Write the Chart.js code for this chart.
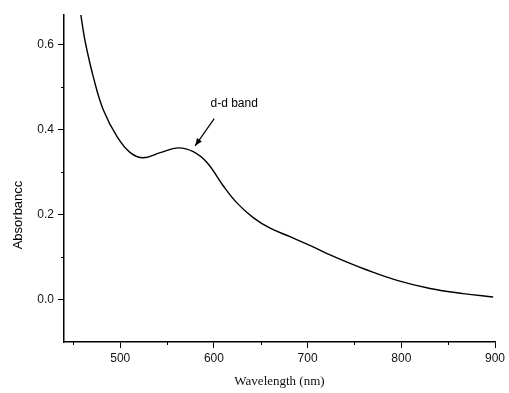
<!DOCTYPE html>
<html>
<head>
<meta charset="utf-8">
<script src="https://cdn.jsdelivr.net/npm/chart.js@4/dist/chart.umd.min.js"></script>
<style>
html,body{margin:0;padding:0;background:#fff;}
#wrap{width:509px;height:393px;position:relative;}
</style>
</head>
<body>
<div id="wrap"><canvas id="c" width="509" height="393"></canvas></div>
<script>
// Data
const wavelength = [457, 459.5, 462.7, 471.2, 481.9, 496.8, 510.7, 524.5, 542.7, 561.9, 577.9, 592.8, 609.9, 624.8, 641.9, 660, 681.3, 705.9, 724, 742.1, 759.2, 795.5, 830.7, 865.9, 898];
const absorbance = [0.685, 0.648, 0.606, 0.525, 0.447, 0.383, 0.346, 0.334, 0.346, 0.357, 0.348, 0.322, 0.268, 0.227, 0.193, 0.168, 0.148, 0.124, 0.105, 0.088, 0.073, 0.045, 0.026, 0.014, 0.006];
const xMajorTicks = [500, 600, 700, 800, 900];
const xMinorTicks = [450, 550, 650, 750, 850];
const yMajorTicks = [0.0, 0.2, 0.4, 0.6];
const yMinorTicks = [0.1, 0.3, 0.5];
const annotationText = "d-d band";
const annotationTextPos = [621.6, 0.461];
const arrowFrom = [600.3, 0.426];
const arrowTo = [580, 0.362];
const xTitle = "Wavelength (nm)";
const yTitle = "Absorbancc";

const points = wavelength.map((x, i) => ({x: x, y: absorbance[i]}));

const extras = {
  id: 'extras',
  afterDraw(chart) {
    const ctx = chart.ctx;
    const xs = chart.scales.x, ys = chart.scales.y;
    const area = chart.chartArea;
    ctx.save();
    ctx.strokeStyle = '#000';
    ctx.lineWidth = 1;
    xMinorTicks.forEach(v => {
      const px = Math.round(xs.getPixelForValue(v)) + 0.5;
      ctx.beginPath(); ctx.moveTo(px, area.bottom); ctx.lineTo(px, area.bottom + 3); ctx.stroke();
    });
    yMinorTicks.forEach(v => {
      const py = Math.round(ys.getPixelForValue(v)) + 0.5;
      ctx.beginPath(); ctx.moveTo(area.left, py); ctx.lineTo(area.left - 3, py); ctx.stroke();
    });
    ctx.fillStyle = '#000';
    ctx.font = '12px "Liberation Sans", Arial, sans-serif';
    ctx.textAlign = 'center';
    ctx.textBaseline = 'middle';
    ctx.fillText(annotationText, xs.getPixelForValue(annotationTextPos[0]), ys.getPixelForValue(annotationTextPos[1]));
    const x1 = xs.getPixelForValue(arrowFrom[0]), y1 = ys.getPixelForValue(arrowFrom[1]);
    const x2 = xs.getPixelForValue(arrowTo[0]), y2 = ys.getPixelForValue(arrowTo[1]);
    ctx.lineWidth = 1.2;
    ctx.beginPath(); ctx.moveTo(x1, y1); ctx.lineTo(x2, y2); ctx.stroke();
    const ang = Math.atan2(y2 - y1, x2 - x1);
    const hl = 8, hw = 0.38;
    ctx.beginPath();
    ctx.moveTo(x2, y2);
    ctx.lineTo(x2 - hl * Math.cos(ang - hw), y2 - hl * Math.sin(ang - hw));
    ctx.lineTo(x2 - hl * Math.cos(ang + hw), y2 - hl * Math.sin(ang + hw));
    ctx.closePath(); ctx.fill();
    ctx.save();
    ctx.translate(18, 215);
    ctx.rotate(-Math.PI / 2);
    ctx.font = '13px "Liberation Sans", Arial, sans-serif';
    ctx.fillText(yTitle, 0, 0);
    ctx.restore();
    ctx.restore();
  }
};

new Chart(document.getElementById('c'), {
  type: 'scatter',
  data: {
    datasets: [{
      data: points,
      showLine: true,
      borderColor: '#000',
      borderWidth: 1.4,
      pointRadius: 0,
      tension: 0.4,
      fill: false
    }]
  },
  options: {
    responsive: false,
    animation: false,
    devicePixelRatio: 1,
    layout: {padding: {top: 15, right: 14, left: 0, bottom: 0}},
    plugins: {legend: {display: false}, tooltip: {enabled: false}},
    scales: {
      x: {
        type: 'linear',
        min: 440, max: 900,
        afterBuildTicks: s => { s.ticks = xMajorTicks.map(v => ({value: v})); },
        afterFit: s => { s.height = 51; },
        border: {display: true, color: '#000', width: 1.5},
        grid: {display: true, drawOnChartArea: false, drawTicks: true, tickLength: 6, color: '#000', lineWidth: 1},
        ticks: {color: '#111', padding: 3, font: {family: '"Liberation Sans", Arial, sans-serif', size: 12}, maxRotation: 0, callback: v => String(v)},
        title: {display: true, text: xTitle, color: '#111', font: {family: '"Liberation Serif", "Times New Roman", serif', size: 13}, padding: {top: 0, bottom: 4}}
      },
      y: {
        type: 'linear',
        min: -0.1, max: 0.67,
        afterBuildTicks: s => { s.ticks = yMajorTicks.map(v => ({value: v})); },
        afterFit: s => { s.width = 64; },
        border: {display: true, color: '#000', width: 1.5},
        grid: {display: true, drawOnChartArea: false, drawTicks: true, tickLength: 6, color: '#000', lineWidth: 1},
        ticks: {color: '#111', padding: 4, font: {family: '"Liberation Sans", Arial, sans-serif', size: 12}, callback: v => v.toFixed(1)}
      }
    }
  },
  plugins: [extras]
});
</script>
</body>
</html>
